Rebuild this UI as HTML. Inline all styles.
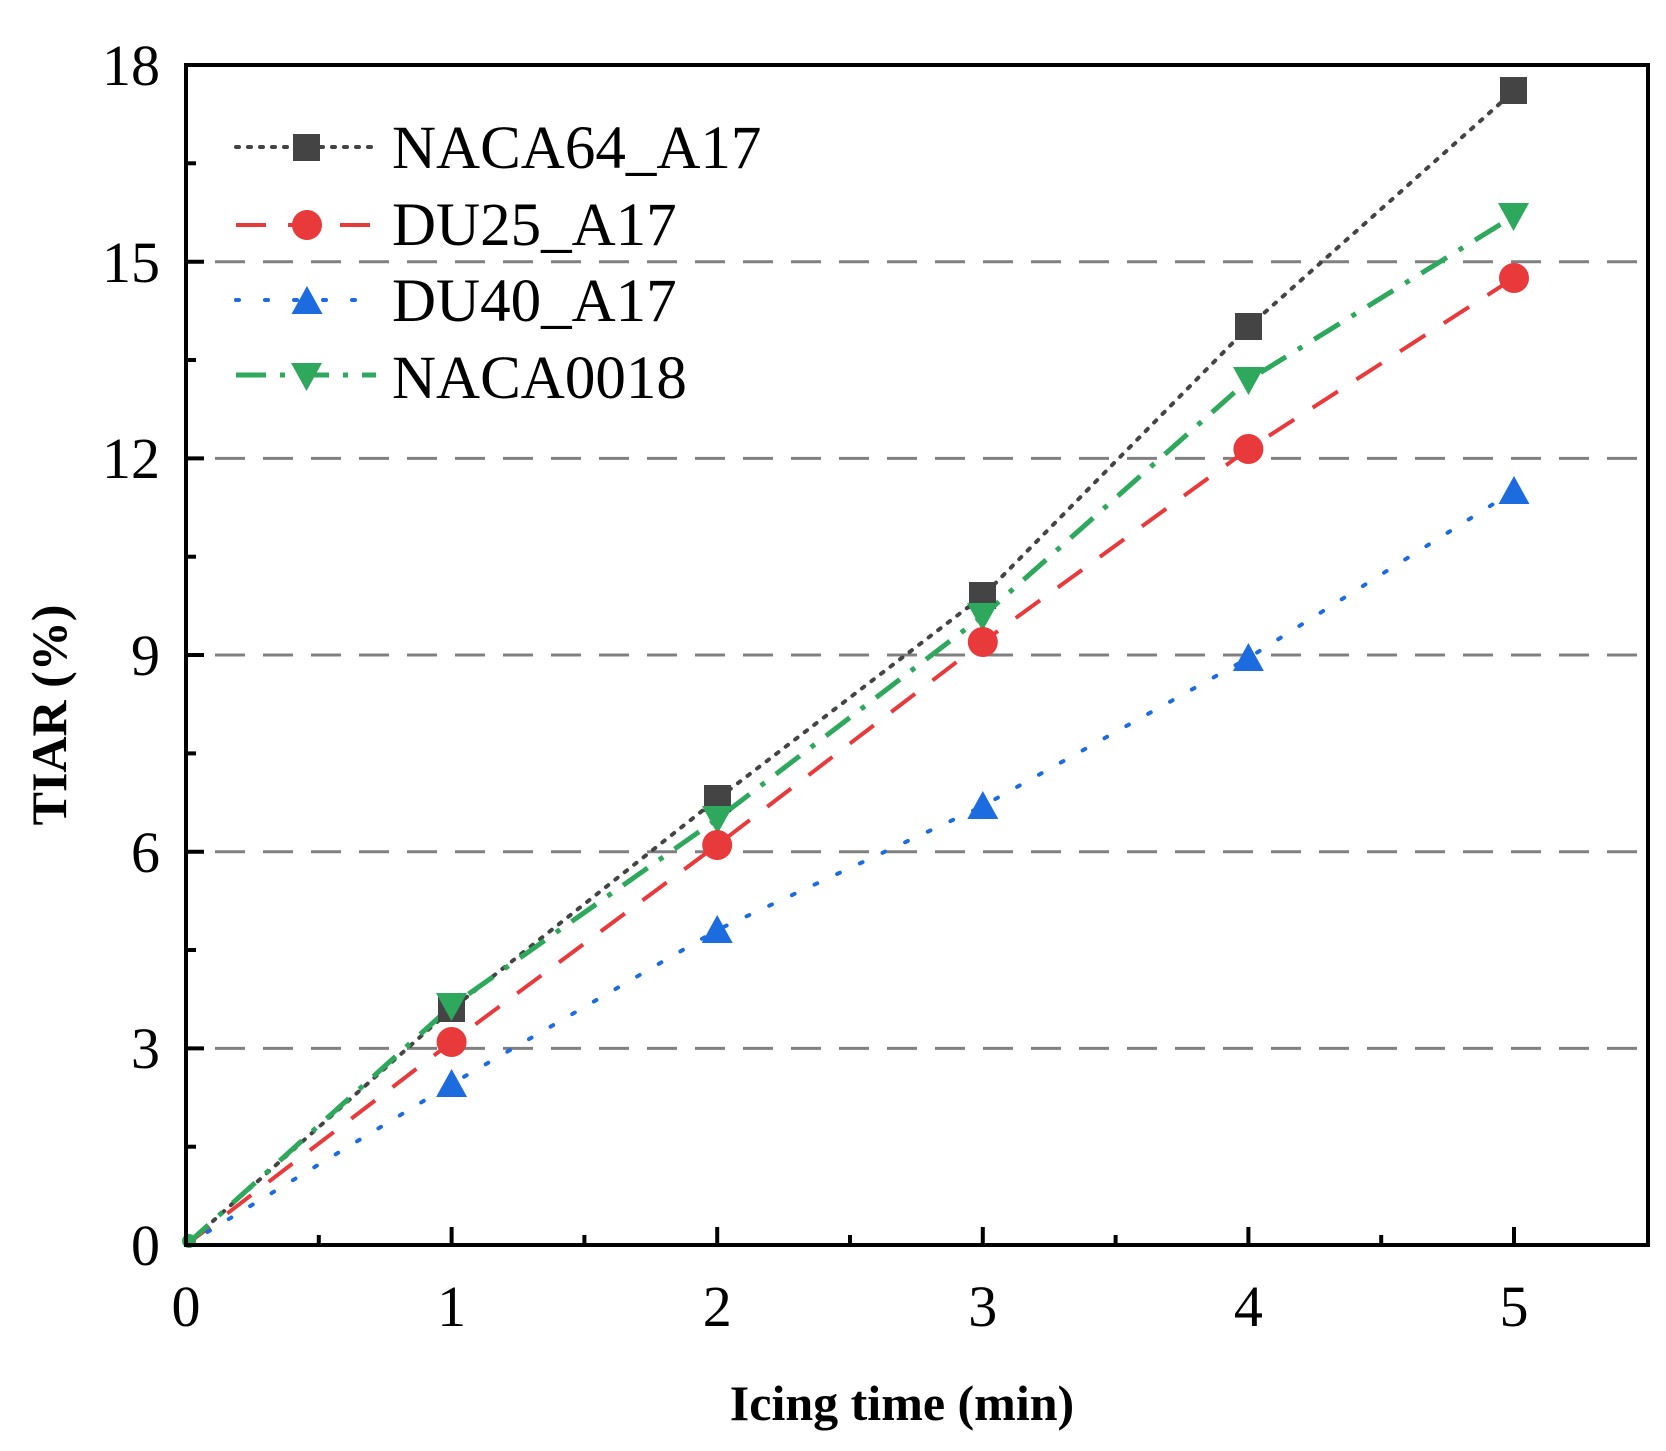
<!DOCTYPE html>
<html><head><meta charset="utf-8"><style>html,body{margin:0;padding:0;background:#fff}svg{display:block}</style></head>
<body>
<svg width="1666" height="1451" viewBox="0 0 1666 1451" xmlns="http://www.w3.org/2000/svg" font-family="Liberation Serif, serif">
<g stroke="#808080" stroke-width="3" stroke-dasharray="30,18">
<line x1="215" y1="1048.4" x2="1646" y2="1048.4"/>
<line x1="215" y1="851.7" x2="1646" y2="851.7"/>
<line x1="215" y1="655" x2="1646" y2="655"/>
<line x1="215" y1="458.4" x2="1646" y2="458.4"/>
<line x1="215" y1="261.7" x2="1646" y2="261.7"/>
</g>
<polyline fill="none" stroke="#444" stroke-width="4" stroke-dasharray="3,9" stroke-linecap="round" points="186,1245 451.6,1009 717.2,799 982.8,596 1248.4,327 1514,91"/>
<polyline fill="none" stroke="#e8393b" stroke-width="4" stroke-dasharray="30,22" points="186,1245 451.6,1042 717.2,845 982.8,642 1248.4,449 1514,278"/>
<polyline fill="none" stroke="#1c6ce0" stroke-width="4" stroke-dasharray="3,22" stroke-linecap="round" points="186,1245 451.6,1084 717.2,930 982.8,806 1248.4,658 1514,491"/>
<polyline fill="none" stroke="#2ea85c" stroke-width="5" stroke-dasharray="30,14,5,14" points="186,1245 451.6,1006 717.2,819 982.8,616 1248.4,380 1514,216"/>
<g fill="#444">
<rect x="438" y="995" width="27" height="27"/><rect x="704" y="785" width="27" height="27"/><rect x="969" y="582" width="27" height="27"/><rect x="1235" y="313" width="27" height="27"/><rect x="1500" y="77" width="27" height="27"/>
</g>
<g fill="#2ea85c">
<path d="M436,993 h31 l-15.5,28z"/><path d="M702,806 h31 l-15.5,28z"/><path d="M967,603 h31 l-15.5,28z"/><path d="M1233,367 h31 l-15.5,28z"/><path d="M1498,203 h31 l-15.5,28z"/>
</g>
<g fill="#e8393b">
<circle cx="451.6" cy="1042" r="15"/><circle cx="717.2" cy="845" r="15"/><circle cx="982.8" cy="642" r="15"/><circle cx="1248.4" cy="449" r="15"/><circle cx="1514" cy="278" r="15"/>
</g>
<g fill="#1c6ce0">
<path d="M451.6,1069 l15.5,28 h-31z"/><path d="M717.2,915 l15.5,28 h-31z"/><path d="M982.8,791 l15.5,28 h-31z"/><path d="M1248.4,643 l15.5,28 h-31z"/><path d="M1514,476 l15.5,28 h-31z"/>
</g>
<circle cx="189" cy="1241" r="7" fill="#2ea85c"/>
<rect x="186" y="65" width="1462" height="1180" fill="none" stroke="#000" stroke-width="4"/>
<g stroke="#000" stroke-width="4">
<line x1="186" y1="1048.4" x2="204" y2="1048.4"/><line x1="186" y1="851.7" x2="204" y2="851.7"/><line x1="186" y1="655" x2="204" y2="655"/><line x1="186" y1="458.4" x2="204" y2="458.4"/><line x1="186" y1="261.7" x2="204" y2="261.7"/>
<line x1="186" y1="1146.7" x2="196" y2="1146.7"/><line x1="186" y1="950" x2="196" y2="950"/><line x1="186" y1="753.4" x2="196" y2="753.4"/><line x1="186" y1="556.7" x2="196" y2="556.7"/><line x1="186" y1="360" x2="196" y2="360"/><line x1="186" y1="163.3" x2="196" y2="163.3"/>
<line x1="451.6" y1="1245" x2="451.6" y2="1227"/><line x1="717.2" y1="1245" x2="717.2" y2="1227"/><line x1="982.8" y1="1245" x2="982.8" y2="1227"/><line x1="1248.4" y1="1245" x2="1248.4" y2="1227"/><line x1="1514" y1="1245" x2="1514" y2="1227"/>
<line x1="318.8" y1="1245" x2="318.8" y2="1235"/><line x1="584.4" y1="1245" x2="584.4" y2="1235"/><line x1="850" y1="1245" x2="850" y2="1235"/><line x1="1115.6" y1="1245" x2="1115.6" y2="1235"/><line x1="1381.2" y1="1245" x2="1381.2" y2="1235"/>
</g>
<g font-size="58" fill="#000" text-anchor="end">
<text x="160" y="1265">0</text><text x="160" y="1068">3</text><text x="160" y="872">6</text><text x="160" y="675">9</text><text x="160" y="478">12</text><text x="160" y="282">15</text><text x="160" y="85">18</text>
</g>
<g font-size="58" fill="#000" text-anchor="middle">
<text x="186" y="1326">0</text><text x="451.6" y="1326">1</text><text x="717.2" y="1326">2</text><text x="982.8" y="1326">3</text><text x="1248.4" y="1326">4</text><text x="1514" y="1326">5</text>
</g>
<text x="902" y="1420" font-size="50" font-weight="bold" text-anchor="middle">Icing time (min)</text>
<text transform="translate(66,715) rotate(-90)" font-size="50" font-weight="bold" text-anchor="middle">TIAR (%)</text>
<line x1="236" y1="147" x2="376" y2="147" stroke="#444" stroke-width="4" stroke-dasharray="3,9" stroke-linecap="round"/>
<rect x="293" y="134" width="27" height="27" fill="#444"/>
<line x1="236" y1="225" x2="376" y2="225" stroke="#e8393b" stroke-width="4" stroke-dasharray="30,22"/>
<circle cx="307" cy="225" r="15" fill="#e8393b"/>
<line x1="236" y1="300" x2="376" y2="300" stroke="#1c6ce0" stroke-width="4" stroke-dasharray="3,26" stroke-linecap="round"/>
<path d="M307,286 l15.5,28 h-31z" fill="#1c6ce0"/>
<line x1="236" y1="375" x2="376" y2="375" stroke="#2ea85c" stroke-width="5" stroke-dasharray="30,14,5,14"/>
<path d="M291,363 h31 l-15.5,28z" fill="#2ea85c"/>
<g font-size="61" fill="#000">
<text x="392" y="168">NACA64_A17</text><text x="392" y="245">DU25_A17</text><text x="392" y="321">DU40_A17</text><text x="392" y="398">NACA0018</text>
</g>
</svg>
</body></html>
